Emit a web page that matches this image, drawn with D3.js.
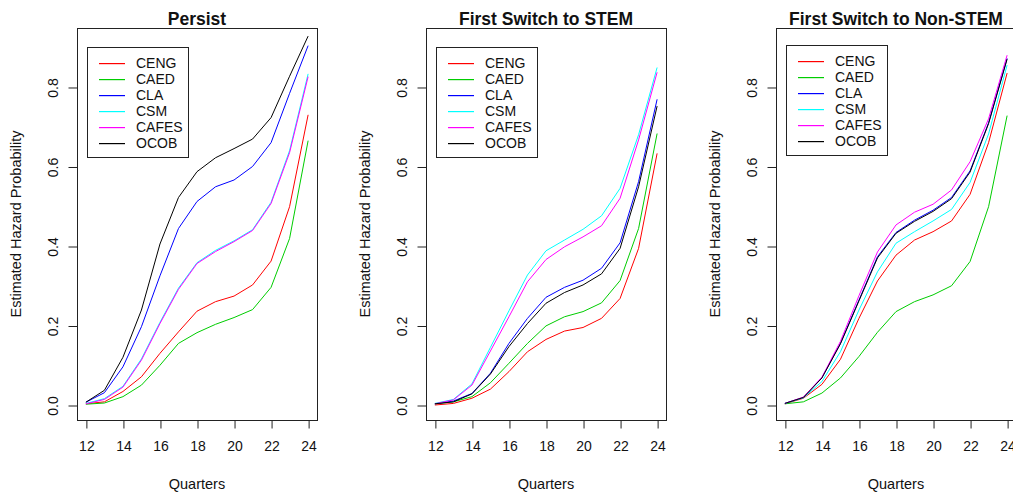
<html>
<head>
<script src="https://d3js.org/d3.v7.min.js"></script>
<style>
  body { margin: 0; background: #fff; }
  text { font-family: "Liberation Sans", Arial, sans-serif; fill: #111; }
</style>
</head>
<body>
<div id="chart"></div>
<script>
// quarters 12..24
const quarters = [12, 13, 14, 15, 16, 17, 18, 19, 20, 21, 22, 23, 24];
const seriesNames = ["CENG", "CAED", "CLA", "CSM", "CAFES", "OCOB"];
const seriesColors = ["#ff0000", "#00cd00", "#0000ff", "#00ffff", "#ff00ff", "#000000"];
const xTicks = [12, 14, 16, 18, 20, 22, 24];
const yTicks = [0, 0.2, 0.4, 0.6, 0.8];
const titles = ["Persist", "First Switch to STEM", "First Switch to Non-STEM"];

// Persist
const persistCENG  = [0.003, 0.008, 0.034, 0.071, 0.130, 0.184, 0.236, 0.260, 0.274, 0.302, 0.362, 0.499, 0.730];
const persistCAED  = [0.002, 0.005, 0.021, 0.050, 0.100, 0.155, 0.182, 0.203, 0.220, 0.240, 0.296, 0.419, 0.665];
const persistCLA   = [0.007, 0.031, 0.096, 0.197, 0.325, 0.444, 0.512, 0.549, 0.566, 0.600, 0.660, 0.784, 0.904];
const persistCSM   = [0.004, 0.016, 0.047, 0.116, 0.208, 0.294, 0.358, 0.389, 0.413, 0.441, 0.510, 0.640, 0.833];
const persistCAFES = [0.003, 0.014, 0.045, 0.113, 0.205, 0.291, 0.356, 0.386, 0.411, 0.439, 0.507, 0.635, 0.826];
const persistOCOB  = [0.007, 0.037, 0.120, 0.239, 0.405, 0.522, 0.587, 0.622, 0.645, 0.669, 0.723, 0.827, 0.928];

// First switch to STEM
const stemCENG  = [0.000, 0.004, 0.017, 0.040, 0.084, 0.134, 0.165, 0.186, 0.195, 0.218, 0.268, 0.394, 0.633];
const stemCAED  = [0.003, 0.008, 0.021, 0.056, 0.105, 0.155, 0.199, 0.222, 0.235, 0.257, 0.313, 0.444, 0.683];
const stemCLA   = [0.003, 0.010, 0.029, 0.080, 0.155, 0.218, 0.271, 0.296, 0.314, 0.344, 0.408, 0.562, 0.769];
const stemCSM   = [0.004, 0.014, 0.053, 0.145, 0.237, 0.327, 0.388, 0.415, 0.442, 0.476, 0.545, 0.680, 0.849];
const stemCAFES = [0.003, 0.013, 0.050, 0.136, 0.222, 0.310, 0.366, 0.398, 0.423, 0.451, 0.520, 0.667, 0.837];
const stemOCOB  = [0.003, 0.008, 0.028, 0.078, 0.147, 0.205, 0.256, 0.283, 0.302, 0.330, 0.394, 0.549, 0.752];

// First switch to Non-STEM
const nonCENG  = [0.003, 0.017, 0.052, 0.115, 0.218, 0.312, 0.377, 0.415, 0.436, 0.463, 0.530, 0.660, 0.835];
const nonCAED  = [0.003, 0.008, 0.030, 0.068, 0.122, 0.183, 0.235, 0.260, 0.277, 0.300, 0.361, 0.499, 0.728];
const nonCLA   = [0.004, 0.019, 0.069, 0.155, 0.264, 0.373, 0.434, 0.465, 0.490, 0.522, 0.589, 0.710, 0.872];
const nonCSM   = [0.004, 0.018, 0.059, 0.134, 0.239, 0.335, 0.407, 0.436, 0.463, 0.492, 0.560, 0.682, 0.855];
const nonCAFES = [0.004, 0.020, 0.070, 0.160, 0.275, 0.385, 0.453, 0.485, 0.505, 0.541, 0.612, 0.720, 0.880];
const nonOCOB  = [0.004, 0.019, 0.068, 0.154, 0.262, 0.370, 0.432, 0.462, 0.487, 0.519, 0.586, 0.708, 0.870];

const panelData = [
    [persistCENG, persistCAED, persistCLA, persistCSM, persistCAFES, persistOCOB],
    [stemCENG, stemCAED, stemCLA, stemCSM, stemCAFES, stemOCOB],
    [nonCENG, nonCAED, nonCLA, nonCSM, nonCAFES, nonOCOB]
];

// layout
const W = 1013, H = 494;
const boxLefts = [77, 426, 776];
const legendTops = [47, 47, 45];
const boxW = 240, boxTop = 28, boxBottom = 420;
const font = "Liberation Sans, Arial, sans-serif";

const svg = d3.select("#chart").append("svg")
    .attr("width", W).attr("height", H);
svg.append("rect").attr("width", W).attr("height", H).attr("fill", "#fff");

const y = d3.scaleLinear().domain([-0.0377, 0.9484]).range([boxBottom, boxTop]);

panelData.forEach(function(series, p) {
    const L = boxLefts[p];
    const x = d3.scaleLinear().domain([11.52, 24.48]).range([L, L + boxW]);
    const g = svg.append("g");

    // lines
    const line = d3.line()
        .x(function(d, i) { return x(quarters[i]); })
        .y(function(d) { return y(d); });
    series.forEach(function(vals, s) {
        g.append("path")
            .datum(vals)
            .attr("fill", "none")
            .attr("stroke", seriesColors[s])
            .attr("stroke-width", 1)
            .attr("d", line);
    });

    // box
    g.append("rect")
        .attr("x", L + 0.5).attr("y", boxTop + 0.5)
        .attr("width", boxW).attr("height", boxBottom - boxTop)
        .attr("fill", "none").attr("stroke", "#222").attr("stroke-width", 1);

    // x axis
    const xAxis = g.append("g")
        .attr("transform", `translate(0.5,${boxBottom + 0.5})`)
        .call(d3.axisBottom(x).tickValues(xTicks).tickSize(8).tickPadding(13));
    xAxis.select(".domain").remove();
    xAxis.attr("font-size", 14).attr("font-family", font);
    xAxis.selectAll("text").attr("fill", "#111");
    xAxis.selectAll("line").attr("stroke", "#222");

    // y axis
    const yAxis = g.append("g")
        .attr("transform", `translate(${L + 0.5},0.5)`)
        .call(d3.axisLeft(y).tickValues(yTicks).tickSize(9).tickFormat(d3.format(".1f")));
    yAxis.select(".domain").remove();
    yAxis.attr("font-size", 14).attr("font-family", font);
    yAxis.selectAll("line").attr("stroke", "#222");
    yAxis.selectAll("text")
        .attr("fill", "#111")
        .attr("text-anchor", "middle")
        .attr("x", 0).attr("dy", 0)
        .attr("transform", "translate(-20,0) rotate(-90)");

    // title
    g.append("text")
        .attr("x", L + boxW / 2).attr("y", 25)
        .attr("text-anchor", "middle")
        .attr("font-weight", "bold").attr("font-size", 17.5)
        .text(titles[p]);

    // axis titles
    g.append("text")
        .attr("x", L + boxW / 2).attr("y", 489)
        .attr("text-anchor", "middle").attr("font-size", 14.5)
        .text("Quarters");
    g.append("text")
        .attr("transform", `translate(${L - 56},${(boxTop + boxBottom) / 2}) rotate(-90)`)
        .attr("text-anchor", "middle").attr("font-size", 14.5)
        .text("Estimated Hazard Probability");

    // legend
    const lx = L + 10, ly = legendTops[p];
    const leg = g.append("g").attr("transform", `translate(${lx},${ly})`);
    leg.append("rect")
        .attr("x", 0.5).attr("y", 0.5).attr("width", 101).attr("height", 110)
        .attr("fill", "#fff").attr("stroke", "#222");
    seriesNames.forEach(function(name, s) {
        const cy = 16 + s * 16;
        leg.append("rect")
            .attr("x", 12).attr("y", cy).attr("width", 26).attr("height", 1.2)
            .attr("fill", seriesColors[s]);
        leg.append("text")
            .attr("x", 49).attr("y", cy + 5)
            .attr("font-size", 14)
            .text(name);
    });
});
</script>
</body>
</html>
